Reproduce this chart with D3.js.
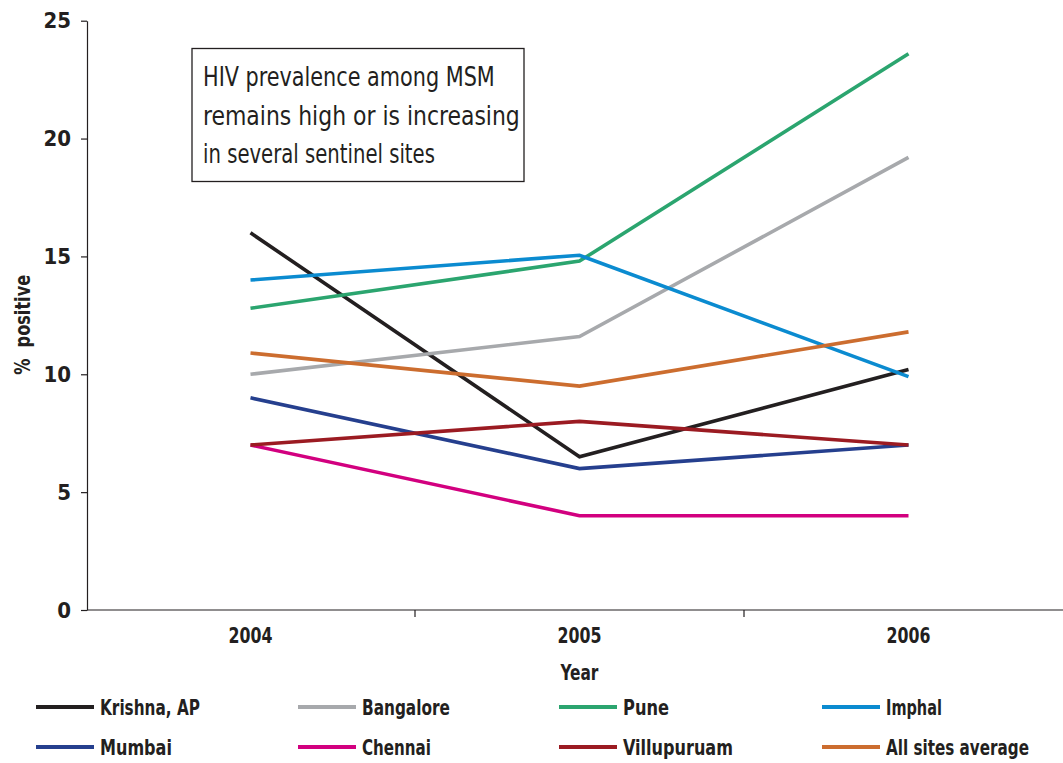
<!DOCTYPE html>
<html>
<head>
<meta charset="utf-8">
<script src="https://cdn.jsdelivr.net/npm/d3@7"></script>
<style>
  html, body { margin: 0; padding: 0; background: #fff; }
  svg { display: block; }
  text {
    fill: #231f20;
    font-family: "DejaVu Sans Condensed", "DejaVu Sans", sans-serif;
    font-stretch: condensed;
  }
</style>
</head>
<body>
<svg id="chart" width="1063" height="763"></svg>
<script>
// HIV prevalence among MSM at sentinel sites, % positive by year
const years = ["2004", "2005", "2006"];
const yTicks = [0, 5, 10, 15, 20, 25];

const krishna     = [16.0, 6.5, 10.2];
const bangalore   = [10.0, 11.6, 19.2];
const pune        = [12.8, 14.8, 23.6];
const imphal      = [14.0, 15.05, 9.9];
const mumbai      = [9.0, 6.0, 7.0];
const chennai     = [7.0, 4.0, 4.0];
const villupuruam = [7.0, 8.0, 7.0];
const allSites    = [10.9, 9.5, 11.8];

const seriesNames = ["Krishna, AP", "Bangalore", "Pune", "Imphal",
                     "Mumbai", "Chennai", "Villupuruam", "All sites average"];
const seriesValues = [krishna, bangalore, pune, imphal,
                      mumbai, chennai, villupuruam, allSites];
const seriesColors = ["#231f20", "#a7a9ac", "#2ba56f", "#0b8bd0",
                      "#253f8e", "#d2007f", "#9b1b22", "#cc6d2f"];

const noteLines = ["HIV prevalence among MSM",
                   "remains high or is increasing",
                   "in several sentinel sites"];

const svg = d3.select("#chart");
const ink = "#231f20";

// Narrow a left-anchored label horizontally so it spans `target` px,
// drawing it at (tx, ty) in its parent's coordinates.
function narrow(node, tx, ty, target) {
  const natural = node.getComputedTextLength();
  const k = natural > 0 ? target / natural : 1;
  d3.select(node)
    .attr("x", 0).attr("y", 0)
    .attr("transform", `translate(${tx},${ty}) scale(${k},1)`);
}

const x = d3.scaleBand().domain(years).range([86, 1073]).paddingInner(0).paddingOuter(0);
const y = d3.scaleLinear().domain([0, 25]).range([610, 20.7]);

// Y axis
const yAxis = svg.append("g")
  .attr("transform", "translate(87,0)")
  .call(d3.axisLeft(y).tickValues(yTicks).tickSize(6).tickSizeOuter(0).tickPadding(10));
yAxis.select(".domain").attr("stroke", ink).attr("stroke-width", 1.2);
yAxis.selectAll(".tick line").attr("stroke", ink).attr("stroke-width", 1.2);
yAxis.selectAll(".tick text")
  .style("font-size", "22px").style("font-weight", "600").attr("fill", ink);

// X axis: line along zero, ticks at category boundaries, labels at centres
const xAxis = svg.append("g").attr("transform", `translate(0,${y(0)})`);
xAxis.append("line")
  .attr("x1", 87).attr("x2", 1063).attr("y1", 0).attr("y2", 0)
  .attr("stroke", ink).attr("stroke-width", 1.2);
xAxis.selectAll("line.bound")
  .data(years.slice(1))
  .join("line")
  .attr("class", "bound")
  .attr("x1", d => x(d)).attr("x2", d => x(d))
  .attr("y1", 0).attr("y2", 7)
  .attr("stroke", ink).attr("stroke-width", 1.2);
xAxis.selectAll("text.year")
  .data(years)
  .join("text")
  .attr("class", "year")
  .style("font-size", "22px").style("font-weight", "600")
  .text(d => d)
  .each(function (d) {
    narrow(this, x(d) + x.bandwidth() / 2 - 22, 33, 44);
  });

// Axis titles
svg.append("text")
  .style("font-size", "22px").style("font-weight", "bold")
  .text("Year")
  .each(function () {
    narrow(this, x("2005") + x.bandwidth() / 2 - 19, 680, 38);
  });

const yTitle = svg.append("g")
  .attr("transform", `translate(30,${y(12.1)}) rotate(-90)`);
yTitle.append("text")
  .style("font-size", "21px").style("font-weight", "bold")
  .attr("xml:space", "preserve")
  .text("%  positive")
  .each(function () { narrow(this, -50, 0, 100); });

// Series lines
const line = d3.line()
  .x((d, i) => x(years[i]) + x.bandwidth() / 2)
  .y(d => y(d));

svg.append("g").selectAll("path")
  .data(seriesValues)
  .join("path")
  .attr("d", d => line(d))
  .attr("fill", "none")
  .attr("stroke", (d, i) => seriesColors[i])
  .attr("stroke-width", 3.6)
  .attr("stroke-linejoin", "miter");

// Annotation box
const noteWidths = [292, 317, 232];
const note = svg.append("g");
note.append("rect")
  .attr("x", 192).attr("y", 48.5).attr("width", 332).attr("height", 133)
  .attr("fill", "#fff").attr("stroke", ink).attr("stroke-width", 1.3);
note.selectAll("text")
  .data(noteLines)
  .join("text")
  .style("font-size", "27px")
  .text(d => d)
  .each(function (d, i) { narrow(this, 203, 86 + i * 38.5, noteWidths[i]); });

// Legend: two rows of four
const legendCols = [36, 298, 559, 822];
const legendRows = [707, 747];
const legendWidths = [100, 88, 46, 56, 72, 69, 110, 143];
const legend = svg.append("g").selectAll("g")
  .data(seriesNames)
  .join("g")
  .attr("transform", (d, i) => `translate(${legendCols[i % 4]},${legendRows[Math.floor(i / 4)]})`);
legend.append("line")
  .attr("x1", 0).attr("x2", 58).attr("y1", 0).attr("y2", 0)
  .attr("stroke", (d, i) => seriesColors[i])
  .attr("stroke-width", 4);
legend.append("text")
  .style("font-size", "22px").style("font-weight", "bold")
  .text(d => d)
  .each(function (d, i) { narrow(this, 64, 8, legendWidths[i]); });
</script>
</body>
</html>
